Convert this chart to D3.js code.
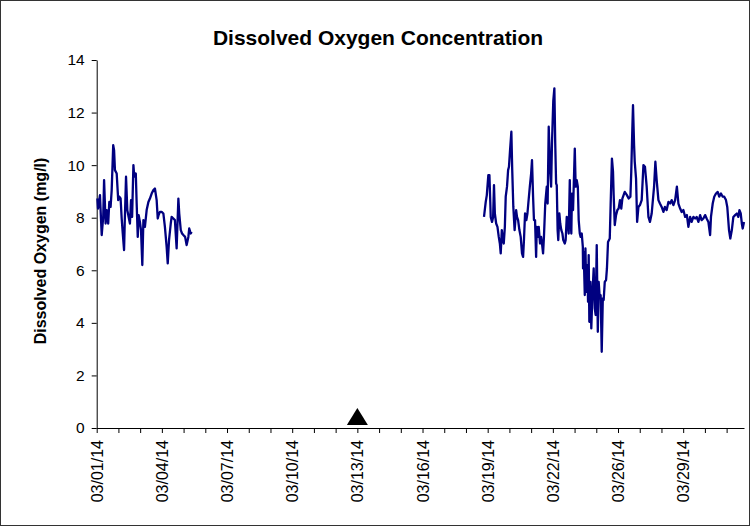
<!DOCTYPE html>
<html>
<head>
<meta charset="utf-8">
<script src="https://cdn.jsdelivr.net/npm/d3@7"></script>
<style>
  body { margin: 0; background: #fff; }
  text { font-family: "Liberation Sans", Arial, sans-serif; fill: #000; }
</style>
</head>
<body>
<svg id="DOChart"></svg>
<script>
// [day since 03/01/14, dissolved oxygen mg/l]
var earlyReadings = [
  [0.03,8.73],[0.06,8.35],[0.15,8.86],[0.23,7.34],[0.30,8.03],[0.34,9.43],[0.41,7.78],[0.46,8.29],
  [0.53,7.78],[0.58,8.60],[0.64,8.41],[0.69,9.05],[0.76,10.76],[0.80,10.57],[0.84,9.81],[0.92,9.68],
  [0.99,8.67],[1.04,8.80],[1.10,8.73],[1.15,7.97],[1.20,7.40],[1.26,6.77],[1.29,7.78],[1.35,9.56],
  [1.41,8.29],[1.47,8.03],[1.53,7.78],[1.58,8.67],[1.63,8.03],[1.69,10.00],[1.73,9.56],[1.80,9.68],
  [1.84,8.54],[1.89,7.27],[1.93,8.10],[1.99,7.84],[2.04,7.53],[2.10,6.20],[2.15,7.91],[2.22,7.65],
  [2.30,8.29],[2.38,8.60],[2.45,8.73],[2.53,8.92],[2.61,9.05],[2.68,9.11],[2.76,8.67],[2.81,7.97],
  [2.85,8.10],[2.91,8.22],[2.99,8.22],[3.07,8.16],[3.14,7.65],[3.22,6.89],[3.27,6.26],[3.33,7.15],
  [3.41,7.78],[3.45,8.03],[3.53,7.97],[3.60,7.91],[3.68,6.83],[3.76,8.73],[3.80,8.16],[3.87,7.53],
  [3.93,7.40],[3.99,7.34],[4.07,7.27],[4.14,6.96],[4.22,7.27],[4.26,7.59],[4.33,7.40],[4.37,7.46]
];

var lateReadings = [
  [17.83,8.03],[17.91,8.60],[17.96,8.86],[18.03,9.62],[18.08,9.62],[18.12,8.60],[18.14,8.03],[18.20,7.84],
  [18.25,8.03],[18.29,9.24],[18.33,8.16],[18.39,7.78],[18.45,7.65],[18.51,7.27],[18.56,7.02],[18.60,6.64],
  [18.65,7.53],[18.70,7.15],[18.74,7.02],[18.79,7.65],[18.83,8.80],[18.89,9.18],[18.94,9.81],[18.98,9.94],
  [19.03,10.57],[19.09,11.27],[19.13,9.81],[19.18,8.41],[19.24,7.53],[19.31,8.29],[19.35,8.03],[19.40,7.91],
  [19.46,7.53],[19.52,7.27],[19.58,6.64],[19.63,6.51],[19.67,7.15],[19.72,8.16],[19.78,7.91],[19.83,8.16],
  [19.87,8.54],[19.94,9.18],[20.00,9.68],[20.04,10.19],[20.09,8.80],[20.13,7.91],[20.18,7.91],[20.23,6.51],
  [20.26,7.65],[20.30,7.27],[20.35,7.65],[20.41,7.02],[20.46,7.27],[20.50,7.02],[20.55,6.64],[20.59,7.27],
  [20.65,8.54],[20.72,9.18],[20.76,8.54],[20.81,11.46],[20.87,9.94],[20.92,9.18],[20.96,10.82],[21.02,12.45],
  [21.07,12.92],[21.11,10.82],[21.15,9.30],[21.18,9.24],[21.22,7.53],[21.25,7.15],[21.30,8.16],[21.34,7.78],
  [21.39,7.53],[21.44,7.40],[21.48,7.15],[21.55,7.02],[21.59,7.15],[21.64,8.03],[21.68,7.91],[21.73,7.40],
  [21.78,9.43],[21.80,8.29],[21.85,7.40],[21.88,8.92],[21.93,8.29],[22.01,10.63],[22.05,9.18],[22.10,9.43],
  [22.15,9.18],[22.19,7.91],[22.24,7.40],[22.28,7.27],[22.33,7.40],[22.38,6.89],[22.39,6.07],[22.42,6.70],
  [22.47,5.06],[22.50,6.83],[22.54,5.18],[22.59,6.20],[22.62,4.80],[22.65,6.58],[22.68,4.04],[22.73,5.56],
  [22.77,3.79],[22.82,5.06],[22.88,6.07],[22.93,4.55],[22.97,4.30],[23.02,6.96],[23.07,3.66],[23.11,5.56],
  [23.16,4.93],[23.20,5.06],[23.25,2.90],[23.30,4.93],[23.34,4.87],[23.39,5.56],[23.45,5.63],[23.49,6.07],
  [23.54,7.08],[23.62,7.21],[23.66,8.48],[23.72,10.25],[23.77,9.75],[23.80,8.86],[23.85,7.72],[23.91,8.10],
  [23.97,8.29],[24.03,8.35],[24.09,8.67],[24.15,8.35],[24.20,8.73],[24.31,8.98],[24.41,8.86],[24.49,8.73],
  [24.57,8.80],[24.61,9.75],[24.66,11.40],[24.69,12.28],[24.74,10.76],[24.77,10.13],[24.83,9.49],[24.88,7.84],
  [24.94,8.41],[25.01,8.48],[25.09,8.67],[25.17,10.00],[25.24,9.94],[25.32,9.18],[25.40,8.03],[25.47,7.84],
  [25.55,8.16],[25.66,9.18],[25.72,10.13],[25.78,9.43],[25.86,8.67],[25.93,8.54],[26.01,8.41],[26.09,8.22],
  [26.16,8.41],[26.24,8.29],[26.32,8.60],[26.40,8.54],[26.47,8.67],[26.55,8.48],[26.63,8.67],[26.71,9.18],
  [26.78,8.54],[26.86,8.35],[26.93,8.22],[27.01,8.29],[27.09,8.03],[27.17,8.10],[27.24,7.65],[27.32,8.03],
  [27.39,7.84],[27.47,8.03],[27.55,7.97],[27.62,8.03],[27.70,7.84],[27.78,8.10],[27.85,7.91],[27.93,7.97],
  [28.01,8.10],[28.08,7.97],[28.16,7.84],[28.24,7.34],[28.28,8.03],[28.36,8.54],[28.43,8.80],[28.51,8.92],
  [28.59,8.98],[28.66,8.80],[28.74,8.92],[28.82,8.80],[28.89,8.80],[28.97,8.67],[29.03,8.41],[29.11,7.53],
  [29.17,7.21],[29.24,7.53],[29.31,8.03],[29.39,8.10],[29.47,8.16],[29.54,8.03],[29.59,8.29],[29.65,8.16],
  [29.70,7.78],[29.74,7.59],[29.80,7.84]
];

// event marker
var eventMarks = [[12, 0.44]];

var dayTicks = d3.range(0, 30);
var labelDays = [0, 3, 6, 9, 12, 15, 18, 21, 24, 27];
var dateLabels = ["03/01/14","03/04/14","03/07/14","03/10/14","03/13/14",
                  "03/16/14","03/19/14","03/22/14","03/26/14","03/29/14"];
var yTicks = [0, 2, 4, 6, 8, 10, 12, 14];

var screen = {width:751, height:527};
var plot = {left:96.7, right:744, top:60, bottom:428};

var svg = d3.select("#DOChart")
  .attr("width", screen.width)
  .attr("height", screen.height);

svg.append("rect")
  .attr("x", 0.5).attr("y", 0.5)
  .attr("width", screen.width - 2).attr("height", screen.height - 2)
  .attr("fill", "#fff")
  .attr("stroke", "#333");

var xScale = d3.scaleLinear()
  .domain([0, 29.8])
  .range([plot.left, plot.right]);

var yScale = d3.scaleLinear()
  .domain([0, 14])
  .range([plot.bottom, plot.top]);

// axes
var xAxis = d3.axisBottom(xScale)
  .tickValues(dayTicks)
  .tickSize(5)
  .tickSizeOuter(0)
  .tickFormat(function(d) {
    var i = labelDays.indexOf(d);
    return i >= 0 ? dateLabels[i] : "";
  });

var gx = svg.append("g")
  .attr("transform", "translate(0," + plot.bottom + ")")
  .call(xAxis);

gx.selectAll("text")
  .attr("font-size", 16)
  .attr("text-anchor", "end")
  .attr("transform", "rotate(-90)")
  .attr("x", -12)
  .attr("y", 0)
  .attr("dy", "0.35em");

var yAxis = d3.axisLeft(yScale)
  .tickValues(yTicks)
  .tickSize(5)
  .tickSizeOuter(0)
  .tickPadding(7);

var gy = svg.append("g")
  .attr("transform", "translate(" + plot.left + ",0)")
  .call(yAxis);

gy.selectAll("text").attr("font-size", 15.5);

svg.selectAll(".domain, .tick line").attr("stroke", "#000");

// lines
var line = d3.line()
  .x(function(d) { return xScale(d[0]); })
  .y(function(d) { return yScale(d[1]); });

[earlyReadings, lateReadings].forEach(function(seg) {
  svg.append("path")
    .datum(seg)
    .attr("d", line)
    .attr("fill", "none")
    .attr("stroke", "#000080")
    .attr("stroke-width", 2.3)
    .attr("stroke-linejoin", "round");
});

svg.selectAll(".eventMark")
  .data(eventMarks)
  .enter()
  .append("path")
  .classed("eventMark", true)
  .attr("d", function(d) {
    var cx = xScale(d[0]), cy = yScale(d[1]);
    return "M" + (cx - 10.5) + "," + (cy + 8.5) +
           "L" + cx + "," + (cy - 8.5) +
           "L" + (cx + 10.5) + "," + (cy + 8.5) + "Z";
  })
  .attr("fill", "#000");

// labels
svg.append("text")
  .text("Dissolved Oxygen Concentration")
  .attr("x", 378)
  .attr("y", 45)
  .attr("text-anchor", "middle")
  .attr("font-size", 21)
  .attr("font-weight", "bold");

svg.append("g")
  .attr("transform", "translate(46,251)")
  .append("text")
  .text("Dissolved Oxygen (mg/l)")
  .attr("text-anchor", "middle")
  .attr("transform", "rotate(-90)")
  .attr("font-size", 16)
  .attr("font-weight", "bold");
</script>
</body>
</html>
